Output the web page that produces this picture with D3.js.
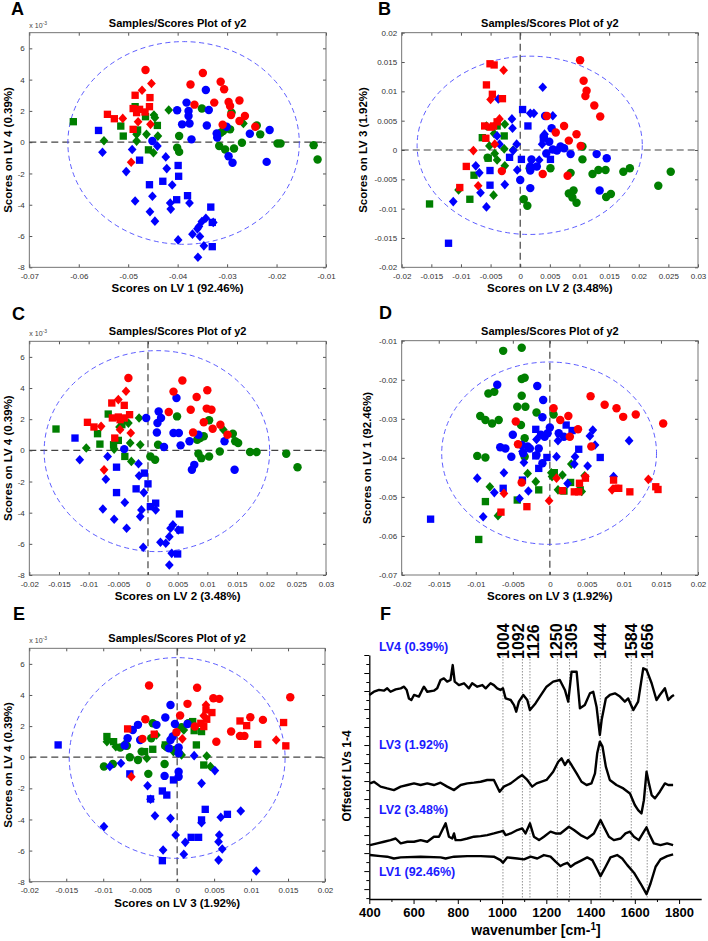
<!DOCTYPE html>
<html>
<head>
<meta charset="utf-8">
<script src="https://cdn.jsdelivr.net/npm/d3@7"></script>
<style>
  body { margin: 0; background: #fff; }
</style>
</head>
<body>
<script>
// ---------------------------------------------------------------
// data (scores are stored in units of 1e-3)
// group code: colour r/g/b + shape c(ircle) s(quare) d(iamond)
// ---------------------------------------------------------------
var ticksLV1 = [-70, -60, -50, -40, -30, -20, -10];
var ticksLV2 = [-20, -15, -10, -5, 0, 5, 10, 15, 20, 25, 30];
var ticksLV3 = [-20, -15, -10, -5, 0, 5, 10, 15, 20];
var ticksLV4 = [-8, -6, -4, -2, 0, 2, 4, 6];

// confidence ellipses: [cx, cy, rx, ry]
var ellipseA = [-38.8, -0.05, 23.4, 6.48];
var ellipseB = [1.6, 0.8, 19.0, 15.2];
var ellipseC = [1.5, -0.05, 19.0, 6.45];
var ellipseD = [-0.1, -38.8, 14.5, 23.35];
var ellipseE = [0.0, -0.05, 14.6, 6.45];

// A: LV1 vs LV4
var scoresA = [
  ["gs",-61.1,1.31],["gs",-51.5,1.03],["gs",-51.0,0.39],["gs",-48.6,2.27],["gs",-46.5,1.63],["gs",-44.1,1.07],["gs",-45.9,-0.49],["gs",-48.1,0.78],
  ["gd",-54.9,0.09],["gd",-44.8,1.74],["gd",-41.8,2.06],["gd",-48.3,0.50],["gd",-46.3,0.50],["gd",-44.0,0.39],["gd",-44.9,-0.68],["gd",-44.6,1.57],["gd",-48.3,0.07],["gd",-26.7,1.20],
  ["gc",-35.1,2.15],["gc",-39.7,0.39],["gc",-40.1,-0.36],["gc",-39.7,-0.62],["gc",-31.3,0.60],["gc",-31.6,-0.25],["gc",-30.4,-0.47],["gc",-28.6,-0.40],["gc",-27.0,-0.04],["gc",-24.0,1.07],["gc",-23.3,0.50],["gc",-19.8,-0.08],["gc",-19.2,-0.08],["gc",-12.5,-0.19],["gc",-11.7,-1.11],["gc",-29.1,1.89],["gc",-30.1,0.93],["gc",-29.4,0.82],["gc",-30.8,0.71],
  ["bc",-38.2,2.53],["bc",-40.1,2.04],["bc",-37.8,2.00],["bc",-37.8,1.67],["bc",-39.1,1.14],["bc",-37.6,1.20],["bc",-37.2,0.18],["bc",-34.3,3.34],["bc",-34.1,1.07],["bc",-33.7,2.06],["bc",-32.1,0.56],["bc",-32.0,0.30],["bc",-29.7,-0.90],["bc",-28.9,-1.32],["bc",-25.4,0.54],["bc",-21.4,0.78],["bc",-22.0,-1.26],["bc",-30.1,0.99],["bc",-45.1,0.07],
  ["bs",-56.0,0.75],["bs",-47.7,-1.15],["bs",-45.7,-2.72],["bs",-43.0,-2.50],["bs",-39.9,-1.49],["bs",-39.8,-2.18],["bs",-40.2,-3.68],["bs",-38.0,-3.42],["bs",-33.3,-4.15],["bs",-33.0,-6.68],["bs",-33.0,-5.13],
  ["bd",-55.2,-0.64],["bd",-50.4,-1.88],["bd",-49.2,-0.47],["bd",-48.6,-3.76],["bd",-45.6,-4.45],["bd",-45.1,-3.46],["bd",-44.6,-5.05],["bd",-44.1,-0.25],["bd",-42.4,-0.94],["bd",-42.2,-1.69],["bd",-41.1,-2.74],["bd",-41.5,-3.89],["bd",-41.4,-4.28],["bd",-39.9,-6.25],["bd",-37.6,-3.89],["bd",-37.0,-5.88],["bd",-36.0,-5.54],["bd",-35.5,-6.03],["bd",-35.1,-5.07],["bd",-34.3,-4.86],["bd",-34.7,-6.63],["bd",-35.9,-7.36],["bd",-32.8,-5.13],["bd",-35.7,-5.39],
  ["rc",-46.5,4.61],["rc",-34.9,4.42],["rc",-37.4,3.69],["rc",-31.3,3.86],["rc",-30.6,3.39],["rc",-36.6,2.40],["rc",-32.6,2.53],["rc",-29.7,2.57],["rc",-27.5,2.66],["rc",-29.4,2.32],["rc",-29.2,1.74],["rc",-26.4,1.67],["rc",-27.5,1.35],["rc",-30.9,1.12],["rc",-24.3,0.99],
  ["rs",-48.6,3.00],["rs",-45.6,2.85],["rs",-45.7,2.27],["rs",-54.2,1.78],["rs",-52.8,1.50],["rs",-49.0,2.15],["rs",-47.7,2.10],["rs",-46.6,1.93],["rs",-48.3,1.89],["rs",-49.0,0.82],
  ["rd",-47.2,3.32],["rd",-45.3,3.75],["rd",-51.1,1.52],["rd",-48.0,1.31],["rd",-45.5,1.14],["rd",-49.4,-1.28]
];

// B: LV2 vs LV3
var scoresB = [
  ["gs",-15.3,-9.2],["gs",-8.5,-8.4],["gs",-7.8,-4.3],["gs",-6.4,2.1],["gs",-3.9,4.1],["gs",-2.7,2.4],["gs",-5.4,-1.4],
  ["gd",-10.4,-6.8],["gd",-4.5,-7.7],["gd",-5.7,4.1],["gd",-5.2,0.7],["gd",-4.4,2.8],["gd",-3.9,-1.7],["gd",-2.6,4.4],["gd",-2.7,0.2],["gd",-2.6,-2.7],["gd",-1.2,0.0],["gd",-4.3,-0.6],
  ["gc",-5.5,-1.3],["gc",1.6,-3.1],["gc",0.6,-8.4],["gc",1.2,-9.5],["gc",5.1,-3.1],["gc",8.5,-3.9],["gc",10.5,0.6],["gc",10.5,-1.6],["gc",8.2,-7.4],["gc",8.8,-8.1],["gc",9.5,-9.0],["gc",9.0,-6.9],["gc",12.2,-4.1],["gc",13.2,-3.4],["gc",14.4,-3.4],["gc",14.5,-8.0],["gc",15.3,-7.5],["gc",17.4,-3.7],["gc",18.5,-3.1],["gc",23.3,-6.1],["gc",25.4,-3.7],
  ["bc",4.2,5.8],["bc",5.3,3.7],["bc",4.0,2.2],["bc",4.9,1.4],["bc",5.5,0.1],["bc",4.4,-0.6],["bc",6.2,-0.1],["bc",7.4,0.3],["bc",8.5,-0.7],["bc",12.9,-0.7],["bc",14.6,-1.4],["bc",13.4,-6.9],["bc",1.9,-1.6],["bc",1.7,-2.8],["bc",1.7,-6.5],["bc",2.8,-2.8],["bc",0.0,-5.1],["bc",1.7,-3.5],["bc",6.8,0.6],
  ["bs",0.4,6.9],["bs",1.3,4.1],["bs",-1.8,-1.25],["bs",0.2,-1.6],["bs",-5.1,-3.5],["bs",-5.1,-6.0],["bs",3.9,2.0],["bs",5.1,-1.6],["bs",-12.1,-15.9],
  ["bd",3.8,10.7],["bd",1.7,6.25],["bd",2.3,6.25],["bd",5.5,5.85],["bd",-3.7,8.7],["bd",-1.4,5.3],["bd",-1.3,3.7],["bd",-3.9,2.4],["bd",-3.5,1.0],["bd",-0.6,1.0],["bd",-1.2,-0.1],["bd",-0.5,-3.4],["bd",-7.5,-2.7],["bd",-6.9,-3.9],["bd",-6.7,-7.3],["bd",-5.7,-9.7],["bd",-11.3,-8.8],["bd",-2.6,-5.9],["bd",3.2,-1.7],["bd",3.7,1.0],["bd",4.1,2.7],
  ["rc",10.1,15.3],["rc",10.7,11.8],["rc",11.2,10.1],["rc",11.0,9.2],["rc",12.5,7.6],["rc",13.5,5.7],["rc",4.5,5.8],["rc",7.4,4.1],["rc",6.0,3.0],["rc",9.5,2.7],["rc",8.2,1.6],["rc",10.2,0.7],["rc",-3.1,-3.6],["rc",3.8,-4.1],["rc",8.0,-4.4],
  ["rs",-5.1,14.7],["rs",-4.4,14.5],["rs",-5.7,11.1],["rs",-4.7,9.5],["rs",-3.0,8.75],["rs",-6.0,4.1],["rs",-4.5,4.1],["rs",-3.9,4.8],["rs",-5.8,2.0],["rs",-9.1,-2.8],["rs",-10.2,-6.4],["rs",-5.0,3.9],
  ["rd",-2.8,13.6],["rd",-5.0,8.6],["rd",-3.5,5.3],["rd",-7.9,-0.1],["rd",-7.1,-6.1],["rd",-4.3,1.0]
];

// C: LV2 vs LV4
var scoresC = [
  ["gs",-15.5,1.37],["gs",-8.5,1.07],["gs",-8.1,0.40],["gs",-6.7,2.33],["gs",-5.8,0.36],["gs",-3.9,-0.39],["gs",-4.4,1.65],["gs",-5.0,0.64],
  ["gd",-10.4,0.15],["gd",-3.3,1.75],["gd",-1.5,2.08],["gd",-1.3,0.36],["gd",-2.8,-0.71],["gd",-4.8,1.50],["gd",-3.0,0.47],["gd",-5.7,0.08],["gd",12.7,1.33],
  ["gc",1.7,0.36],["gc",0.4,-0.39],["gc",1.2,-0.60],["gc",4.9,2.18],["gc",10.3,1.93],["gc",8.3,0.68],["gc",8.8,0.79],["gc",9.4,0.90],["gc",8.5,-0.22],["gc",9.0,-0.50],["gc",10.3,-0.39],["gc",12.1,-0.07],["gc",14.3,1.07],["gc",14.7,0.58],["gc",15.2,0.47],["gc",17.2,-0.11],["gc",18.3,-0.11],["gc",23.3,-0.22],["gc",25.2,-1.08],
  ["bc",-0.3,2.08],["bc",1.8,2.50],["bc",2.2,2.08],["bc",1.6,1.75],["bc",1.5,1.15],["bc",2.7,0.21],["bc",4.8,3.36],["bc",4.3,1.11],["bc",5.2,1.11],["bc",5.5,0.32],["bc",7.0,0.58],["bc",8.5,1.00],["bc",7.4,-1.25],["bc",7.8,-0.93],["bc",12.9,0.58],["bc",14.6,-1.25],["bc",-4.0,0.08],
  ["bs",-12.3,0.79],["bs",-5.3,-1.08],["bs",-5.3,-2.71],["bs",-2.0,-2.47],["bs",-0.6,-1.46],["bs",0.0,-2.15],["bs",0.4,-3.61],["bs",1.3,-3.39],["bs",5.3,-4.08],["bs",5.0,-6.65],["bs",5.4,-5.11],
  ["bd",-11.5,-0.60],["bd",-7.1,-1.85],["bd",-6.8,-0.39],["bd",-7.6,-3.76],["bd",-5.7,-4.42],["bd",-3.9,-3.35],["bd",-3.6,-5.00],["bd",-1.6,-0.86],["bd",-1.5,-1.63],["bd",-0.7,-2.71],["bd",-1.1,-3.82],["bd",-1.3,-4.25],["bd",-0.8,-6.22],["bd",1.3,-3.82],["bd",2.1,-5.90],["bd",3.0,-5.96],["bd",3.6,-5.54],["bd",3.8,-5.00],["bd",4.2,-4.78],["bd",4.0,-6.61],["bd",3.6,-7.36],["bd",5.1,-5.11],
  ["rc",-3.3,4.65],["rc",5.8,4.48],["rc",4.3,3.77],["rc",10.0,3.86],["rc",8.2,3.43],["rc",3.5,2.46],["rc",7.2,2.61],["rc",9.9,2.68],["rc",10.7,2.61],["rc",9.4,1.80],["rc",12.2,1.65],["rc",10.9,1.39],["rc",7.6,1.15],["rc",13.4,1.00],
  ["rs",-6.1,3.04],["rs",-4.0,2.89],["rs",-10.2,1.80],["rs",-9.1,1.50],["rs",-6.0,2.08],["rs",-5.0,2.14],["rs",-4.0,2.08],["rs",-3.1,2.29],["rs",-5.6,0.79],["rs",-4.7,1.97],
  ["rd",-5.0,3.26],["rd",-3.7,3.79],["rd",-7.9,1.54],["rd",-4.7,1.33],["rd",-2.9,1.11],["rd",-7.4,-1.25]
];

// D: LV3 vs LV1
var scoresD = [
  ["gc",-6.3,-12.6],["gc",-3.8,-11.8],["gc",-3.8,-19.8],["gc",-3.4,-19.5],["gc",-8.3,-23.5],["gc",-7.5,-23.1],["gc",-3.8,-24.1],["gc",-4.4,-26.9],["gc",-3.3,-26.9],["gc",-9.4,-29.3],["gc",-8.7,-30.3],["gc",-7.8,-31.2],["gc",-6.9,-30.3],["gc",-3.9,-31.6],["gc",-3.4,-35.0],["gc",-1.8,-28.4],["gc",-9.8,-39.5],["gc",-8.7,-39.9],["gc",-3.4,-39.7],["gc",0.5,-28.9],
  ["gs",-8.7,-51.2],["gs",-9.6,-60.9],["gs",-4.4,-50.8],["gs",-1.5,-48.2],["gs",0.6,-43.8],["gs",1.9,-48.5],["gs",2.8,-46.3],["gs",4.1,-48.2],
  ["gd",-8.1,-47.4],["gd",-7.0,-54.8],["gd",-3.0,-44.0],["gd",-1.9,-46.1],["gd",0.2,-43.8],["gd",0.3,-44.8],["gd",1.1,-48.2],["gd",1.7,-44.4],["gd",2.9,-41.6],["gd",4.7,-44.6],["gd",4.3,-48.6],
  ["bc",-7.1,-21.3],["bc",-1.7,-21.6],["bc",-0.9,-25.2],["bc",-1.0,-29.6],["bc",0.0,-32.2],["bc",-5.0,-34.1],["bc",-6.7,-37.3],["bc",-6.0,-37.6],["bc",-5.2,-39.7],["bc",-3.8,-36.7],["bc",-3.0,-37.1],["bc",-2.7,-37.6],["bc",-1.5,-37.6],["bc",-1.2,-34.1],["bc",-0.7,-34.6],["bc",-0.3,-33.7],["bc",-1.8,-39.3],["bc",-1.0,-41.4],["bc",1.2,-33.7],["bc",1.9,-34.6],["bc",-3.6,-38.8],
  ["bs",-1.9,-32.7],["bs",-1.9,-39.5],["bs",-1.5,-42.7],["bs",-0.4,-39.9],["bs",3.0,-33.0],["bs",3.9,-37.8],["bs",6.8,-39.9],["bs",-6.3,-47.8],["bs",-3.7,-45.7],["bs",-16.1,-55.7],["bs",2.2,-31.6],
  ["bd",-9.8,-45.2],["bd",-9.0,-55.1],["bd",-7.5,-48.9],["bd",-6.2,-43.8],["bd",-4.1,-50.4],["bd",-2.9,-48.5],["bd",-3.5,-41.2],["bd",-3.7,-38.4],["bd",-1.8,-35.3],["bd",1.1,-35.6],["bd",0.9,-39.7],["bd",3.4,-39.7],["bd",3.3,-41.6],["bd",5.1,-42.1],["bd",5.4,-34.4],["bd",5.8,-32.9],["bd",6.1,-36.7],["bd",8.6,-44.8],["bd",10.7,-35.6],["bd",2.4,-46.6],
  ["rc",0.5,-27.3],["rc",1.4,-30.3],["rc",2.5,-29.3],["rc",-4.6,-30.7],["rc",-4.3,-36.5],["rc",-3.8,-46.3],["rc",3.8,-32.7],["rc",2.7,-34.6],["rc",5.6,-37.1],["rc",5.5,-24.2],["rc",7.4,-26.4],["rc",9.0,-27.3],["rc",9.9,-29.5],["rc",11.6,-28.9],["rc",15.3,-31.2],
  ["rs",-6.6,-53.9],["rs",-3.1,-52.5],["rs",1.7,-48.4],["rs",3.3,-48.7],["rs",4.0,-46.5],["rs",3.9,-48.7],["rs",8.6,-45.7],["rs",9.3,-47.8],["rs",8.9,-47.8],["rs",10.8,-48.7],["rs",14.3,-47.4],["rs",14.6,-48.1],["rs",4.8,-45.2],
  ["rd",-6.2,-49.1],["rd",-0.1,-51.0],["rd",0.9,-45.2],["rd",4.8,-44.8],["rd",8.4,-48.2],["rd",13.3,-45.5]
];

// E: LV3 vs LV4
var scoresE = [
  ["gs",-9.5,1.33],["gs",-8.6,1.00],["gs",-4.4,0.36],["gs",-3.3,0.51],["gs",-1.6,0.79],["gs",2.1,2.29],["gs",2.3,1.71],["gs",2.6,0.79],["gs",3.3,1.65],["gs",3.6,-0.50],
  ["gd",-9.5,1.00],["gd",-8.3,0.68],["gd",-7.0,0.90],["gd",-4.1,-0.07],["gd",-2.8,1.43],["gd",-1.6,0.68],["gd",-0.5,0.36],["gd",0.6,0.15],["gd",0.9,1.75],["gd",4.0,0.08],["gd",4.5,-0.60],
  ["gc",-9.9,-0.60],["gc",-8.7,-0.43],["gc",-7.7,0.62],["gc",-6.8,0.73],["gc",-6.4,0.0],["gc",-5.3,-0.18],["gc",-3.9,-1.07],["gc",-1.7,-0.43],["gc",-3.3,2.18],["gc",-3.5,1.22],["gc",-1.6,0.73],["gc",-0.3,0.47],["gc",0.6,1.93],["gc",1.5,2.18],["gc",-4.8,0.36],
  ["bc",-0.9,3.36],["bc",-1.6,2.55],["bc",-2.8,2.08],["bc",-5.3,2.08],["bc",-6.0,1.75],["bc",-6.7,1.22],["bc",-5.0,1.11],["bc",-0.9,1.11],["bc",-0.3,2.14],["bc",1.4,2.14],["bc",-1.1,0.58],["bc",0.2,0.62],["bc",0.2,0.26],["bc",0.2,-0.93],["bc",0.2,-1.25],["bc",-1.7,-1.20],["bc",-7.1,0.75],["bc",-0.6,1.33],
  ["bs",-16.1,0.79],["bs",-6.4,-1.07],["bs",-3.6,-2.68],["bs",-2.0,-2.17],["bs",-1.4,-2.43],["bs",-0.5,-1.46],["bs",3.8,-3.35],["bs",3.3,-4.03],["bs",1.9,-5.15],["bs",2.9,-5.15],["bs",6.8,-3.67],["bs",-2.0,-6.65],
  ["bd",-9.1,-0.60],["bd",-7.6,-0.39],["bd",-4.0,-1.83],["bd",-3.6,-2.70],["bd",-3.0,-3.76],["bd",-0.9,-3.93],["bd",-1.9,-5.96],["bd",-0.2,-5.00],["bd",1.1,-5.47],["bd",0.9,-6.24],["bd",2.3,0.10],["bd",3.3,-1.68],["bd",5.1,-0.86],["bd",3.3,-4.21],["bd",5.6,-5.43],["bd",5.7,-5.00],["bd",5.6,-6.61],["bd",5.9,-3.86],["bd",6.1,-5.90],["bd",8.6,-3.46],["bd",10.7,-7.31],["bd",-9.9,-4.46],
  ["rc",-3.8,4.61],["rc",2.7,4.46],["rc",1.4,3.43],["rc",4.9,3.79],["rc",5.7,3.75],["rc",0.4,2.68],["rc",2.4,1.97],["rc",-4.3,2.44],["rc",-4.7,1.18],["rc",5.3,1.00],["rc",7.3,1.65],["rc",8.5,1.37],["rc",9.1,1.37],["rc",9.9,2.57],["rc",11.6,2.40],["rc",15.3,3.86],["rc",-0.1,1.60],
  ["rs",-6.7,1.82],["rs",-3.1,1.48],["rs",3.9,3.04],["rs",4.0,2.44],["rs",4.7,2.87],["rs",3.6,1.97],["rs",8.5,2.33],["rs",9.4,2.03],["rs",10.9,0.83],["rs",14.4,2.23],["rs",14.7,0.73],["rs",3.2,2.18],
  ["rd",3.9,3.36],["rd",0.7,1.18],["rd",-6.2,-1.25],["rd",13.4,1.11],["rd",3.6,2.66]
];

// F: loadings, offset stacked  [wavenumber, offset]
var lv4Spectrum = [[400,10.78],[421,10.96],[444,11.06],[466,11.02],[481,11.15],[496,10.96],[519,11.09],[542,11.15],[557,11.24],[569,11.06],[579,10.59],[590,10.50],[602,10.78],[624,10.69],[639,11.06],[647,11.24],[662,10.96],[692,11.02],[707,11.15],[722,11.61],[737,11.70],[752,11.52],[767,11.61],[777,12.44],[786,11.52],[805,11.33],[828,11.43],[850,11.15],[865,11.43],[888,11.24],[911,11.33],[926,11.15],[948,11.43],[963,11.33],[978,11.15],[993,11.06],[1004,11.15],[1016,10.59],[1039,10.50],[1054,10.22],[1064,9.85],[1076,10.41],[1096,10.78],[1114,10.50],[1126,9.94],[1151,10.31],[1171,10.69],[1201,11.24],[1231,11.52],[1261,11.61],[1284,11.06],[1299,10.41],[1314,12.07],[1337,12.07],[1352,10.04],[1374,10.22],[1397,10.87],[1412,10.96],[1427,10.13],[1442,8.56],[1450,9.39],[1469,10.59],[1487,10.78],[1510,10.87],[1533,10.69],[1555,10.41],[1570,10.59],[1593,9.94],[1615,10.41],[1638,12.26],[1653,12.17],[1676,11.43],[1698,10.50],[1713,10.78],[1736,11.15],[1751,10.50],[1766,10.69],[1777,10.78]];
var lv3Spectrum = [[403,5.87],[421,5.96],[451,5.69],[481,5.59],[511,5.50],[542,5.69],[572,5.78],[602,5.87],[632,5.78],[662,5.87],[692,5.78],[722,5.91],[752,5.69],[783,5.50],[813,5.78],[843,5.87],[873,5.91],[903,5.96],[933,6.06],[963,6.06],[989,5.41],[1008,5.69],[1039,5.87],[1069,6.15],[1091,6.33],[1114,6.06],[1136,5.69],[1156,5.87],[1201,6.06],[1231,6.52],[1254,7.07],[1269,7.26],[1284,6.89],[1299,7.17],[1314,6.89],[1337,6.43],[1359,5.96],[1382,5.78],[1404,5.87],[1420,6.43],[1430,7.54],[1442,8.19],[1454,7.91],[1469,6.80],[1487,6.06],[1517,5.78],[1548,5.59],[1578,5.31],[1600,4.67],[1615,4.39],[1630,4.20],[1641,4.94],[1653,6.52],[1664,5.87],[1676,5.22],[1691,5.04],[1713,5.41],[1736,5.87],[1751,5.78],[1773,5.78]];
var lv2Spectrum = [[403,2.44],[436,2.54],[466,2.63],[496,2.72],[519,2.81],[542,2.54],[572,2.63],[602,2.63],[632,2.72],[662,2.63],[692,2.91],[715,2.91],[730,3.28],[745,3.65],[760,2.91],[775,2.81],[783,3.09],[790,2.72],[813,2.72],[843,2.81],[873,2.91],[903,2.94],[933,3.00],[963,3.09],[993,3.19],[1004,3.24],[1016,3.00],[1039,3.09],[1069,3.28],[1091,3.37],[1106,3.09],[1126,3.65],[1144,2.91],[1167,2.72],[1189,2.91],[1219,3.19],[1242,3.09],[1264,3.09],[1302,3.46],[1325,3.28],[1355,3.00],[1385,2.81],[1415,3.09],[1445,3.83],[1460,3.46],[1483,2.91],[1505,2.72],[1536,2.81],[1558,3.09],[1578,3.19],[1596,2.91],[1618,2.72],[1641,3.19],[1653,3.43],[1664,3.09],[1686,2.54],[1716,2.44],[1746,2.54],[1773,2.44]];
var lv1Spectrum = [[403,1.89],[451,1.83],[481,1.80],[511,1.70],[542,1.76],[632,1.80],[722,1.76],[745,1.70],[767,1.76],[783,1.80],[843,1.83],[903,1.83],[963,1.80],[993,1.61],[1004,1.46],[1023,1.76],[1069,1.70],[1099,1.65],[1129,1.80],[1159,1.70],[1189,1.89],[1219,1.80],[1242,1.52],[1264,1.28],[1280,1.39],[1295,1.46],[1310,1.24],[1332,1.43],[1355,1.57],[1385,1.76],[1408,1.61],[1430,1.09],[1445,0.72],[1468,1.24],[1490,1.76],[1520,1.89],[1543,1.70],[1566,1.33],[1596,0.91],[1626,0.31],[1653,-0.28],[1671,0.31],[1694,1.24],[1716,1.65],[1746,1.83],[1773,1.93]];

var peakBands = [1004, 1092, 1126, 1250, 1305, 1444, 1584, 1656];
var lvNames = ["LV4 (0.39%)", "LV3 (1.92%)", "LV2 (3.48%)", "LV1 (92.46%)"];
var spectra = [lv4Spectrum, lv3Spectrum, lv2Spectrum, lv1Spectrum];

// ---------------------------------------------------------------
// stage
// ---------------------------------------------------------------
var FONT = "'Liberation Sans', Arial, Helvetica, sans-serif";
var svg = d3.select("body").append("svg")
    .attr("width", 708)
    .attr("height", 941)
    .style("font-family", FONT);

var colorOf = { r: "#ff0000", g: "#007f00", b: "#0000ff" };
var diamondType = {
    draw: function (ctx, size) {
        var a = Math.sqrt(size / 2.2), b = a * 1.1;
        ctx.moveTo(0, -b); ctx.lineTo(a, 0); ctx.lineTo(0, b); ctx.lineTo(-a, 0); ctx.closePath();
    }
};
var shapeOf = {
    c: d3.symbol(d3.symbolCircle, 56)(),
    s: d3.symbol(d3.symbolSquare, 54)(),
    d: d3.symbol(diamondType, 42)()
};

// panel layout
var panels = [
    { letter: "A", lx: 11, ly: 15, data: scoresA, ell: ellipseA, xDom: [-70, -10], yDom: [-8, 7],
      xTicks: ticksLV1, yTicks: ticksLV4, milliY: true, zeroX: false, zeroY: true,
      xLabel: "Scores on LV 1 (92.46%)", yLabel: "Scores on LV 4 (0.39%)",
      box: [29.3, 32.7, 326, 267.3], yGap: 17 },
    { letter: "B", lx: 378, ly: 15, data: scoresB, ell: ellipseB, xDom: [-20, 30], yDom: [-20, 20],
      xTicks: ticksLV2, yTicks: ticksLV3, milliY: false, zeroX: true, zeroY: true,
      xLabel: "Scores on LV 2 (3.48%)", yLabel: "Scores on LV 3 (1.92%)",
      box: [401.7, 32.7, 698, 267.3], yGap: 35 },
    { letter: "C", lx: 12, ly: 320, data: scoresC, ell: ellipseC, xDom: [-20, 30], yDom: [-8, 7],
      xTicks: ticksLV2, yTicks: ticksLV4, milliY: true, zeroX: true, zeroY: true,
      xLabel: "Scores on LV 2 (3.48%)", yLabel: "Scores on LV 4 (0.39%)",
      box: [29.3, 341.3, 326, 575], yGap: 17 },
    { letter: "D", lx: 379, ly: 319, data: scoresD, ell: ellipseD, xDom: [-20, 20], yDom: [-70, -10],
      xTicks: ticksLV3, yTicks: ticksLV1, milliY: false, zeroX: true, zeroY: false,
      xLabel: "Scores on LV 3 (1.92%)", yLabel: "Scores on LV 1 (92.46%)",
      box: [401.7, 340.7, 698, 575], yGap: 31 },
    { letter: "E", lx: 13, ly: 620, data: scoresE, ell: ellipseE, xDom: [-20, 20], yDom: [-8, 7],
      xTicks: ticksLV3, yTicks: ticksLV4, milliY: true, zeroX: true, zeroY: true,
      xLabel: "Scores on LV 3 (1.92%)", yLabel: "Scores on LV 4 (0.39%)",
      box: [29.3, 648.3, 325, 881.7], yGap: 17 }
];

function rawLabel(d) { return String(+(d / 1000).toFixed(3)); }

function styleAxis(a, size, fill, weight) {
    a.attr("font-family", null).attr("font-size", size);
    a.selectAll("text").attr("fill", fill).attr("font-weight", weight || null);
}

function panelLetter(t, x, y) {
    svg.append("text").attr("x", x).attr("y", y)
        .attr("font-size", 18).attr("font-weight", "bold").text(t);
}

// ---------------------------------------------------------------
// score plots
// ---------------------------------------------------------------
function drawScores(p) {
    var x0 = p.box[0], y0 = p.box[1], x1 = p.box[2], y1 = p.box[3];
    var x = d3.scaleLinear().domain(p.xDom).range([x0, x1]);
    var y = d3.scaleLinear().domain(p.yDom).range([y1, y0]);
    var g = svg.append("g");
    var fmtY = p.milliY ? function (d) { return String(d); } : rawLabel;

    var axes = [
        [d3.axisBottom(x).tickValues(p.xTicks).tickFormat(rawLabel).tickPadding(6), "translate(0," + y1 + ")"],
        [d3.axisTop(x).tickValues(p.xTicks).tickFormat(""), "translate(0," + y0 + ")"],
        [d3.axisLeft(y).tickValues(p.yTicks).tickFormat(fmtY).tickPadding(4.5), "translate(" + x0 + ",0)"],
        [d3.axisRight(y).tickValues(p.yTicks).tickFormat(""), "translate(" + x1 + ",0)"]
    ];
    axes.forEach(function (ax) {
        var a = g.append("g").attr("transform", ax[1])
            .call(ax[0].tickSizeInner(-3).tickSizeOuter(0));
        a.select(".domain").remove();
        a.selectAll("line").attr("stroke", "#555");
        styleAxis(a, 8, "#333");
    });

    g.append("rect")
        .attr("x", x0).attr("y", y0)
        .attr("width", x1 - x0).attr("height", y1 - y0)
        .attr("fill", "none").attr("stroke", "#666").attr("stroke-width", 0.9);

    // zero lines
    if (p.zeroY) {
        g.append("line").attr("x1", x0).attr("x2", x1).attr("y1", y(0)).attr("y2", y(0))
            .attr("stroke", "#444").attr("stroke-width", 1.2).attr("stroke-dasharray", "7,4");
    }
    if (p.zeroX) {
        g.append("line").attr("x1", x(0)).attr("x2", x(0)).attr("y1", y0).attr("y2", y1)
            .attr("stroke", "#444").attr("stroke-width", 1.2).attr("stroke-dasharray", "7,4");
    }

    // confidence ellipse
    var e = p.ell;
    g.append("ellipse")
        .attr("cx", x(e[0])).attr("cy", y(e[1]))
        .attr("rx", x(e[0] + e[2]) - x(e[0]))
        .attr("ry", y(e[1]) - y(e[1] + e[3]))
        .attr("fill", "none").attr("stroke", "#4b4bff")
        .attr("stroke-width", 0.9).attr("stroke-dasharray", "5,3.5");

    // samples
    g.selectAll("path.pt")
        .data(p.data)
        .enter()
        .append("path")
        .attr("class", "pt")
        .attr("transform", function (d) { return "translate(" + x(d[1]) + "," + y(d[2]) + ")"; })
        .attr("d", function (d) { return shapeOf[d[0][1]]; })
        .attr("fill", function (d) { return colorOf[d[0][0]]; });

    // texts
    g.append("text").attr("x", (x0 + x1) / 2).attr("y", y0 - 6)
        .attr("text-anchor", "middle").attr("font-size", 11).attr("font-weight", "bold")
        .text("Samples/Scores Plot of y2");
    g.append("text").attr("x", (x0 + x1) / 2).attr("y", y1 + 25)
        .attr("text-anchor", "middle").attr("font-size", 11.5).attr("font-weight", "bold")
        .text(p.xLabel);
    g.append("text")
        .attr("transform", "translate(" + (x0 - p.yGap) + "," + ((y0 + y1) / 2) + ") rotate(-90)")
        .attr("text-anchor", "middle").attr("font-size", 11.5).attr("font-weight", "bold")
        .text(p.yLabel);
    if (p.milliY) {
        var m = g.append("text").attr("x", x0).attr("y", y0 - 5)
            .attr("font-size", 7).attr("fill", "#444").text("x 10");
        m.append("tspan").attr("dy", -3).attr("font-size", 5).text("-3");
    }

    panelLetter(p.letter, p.lx, p.ly);
}

panels.forEach(drawScores);

// ---------------------------------------------------------------
// F: offset loadings
// ---------------------------------------------------------------
var fx = d3.scaleLinear().domain([400, 1900]).range([369.3, 701.2]);
var fy = d3.scaleLinear().domain([-0.55, 13]).range([899, 655]);
var gf = svg.append("g");

// x axis
var xMajor = gf.append("g").attr("transform", "translate(0,899)")
    .call(d3.axisBottom(fx).tickValues(d3.range(400, 1801, 200)).tickFormat(d3.format("d"))
        .tickSizeInner(5).tickSizeOuter(0).tickPadding(3.8));
xMajor.select(".domain").attr("stroke", "#000").attr("stroke-width", 1.3);
styleAxis(xMajor, 13, "#000", "bold");
var xMinor = gf.append("g").attr("transform", "translate(0,899)")
    .call(d3.axisBottom(fx).tickValues(d3.range(500, 1800, 200)).tickSize(3).tickFormat(""));
xMinor.select(".domain").remove();

// y axis (no labels)
var yMajor = gf.append("g").attr("transform", "translate(369.3,0)")
    .call(d3.axisLeft(fy).tickValues(d3.range(0, 14)).tickSizeInner(5).tickSizeOuter(0).tickFormat(""));
yMajor.select(".domain").attr("stroke", "#000").attr("stroke-width", 1.3);
var yMinor = gf.append("g").attr("transform", "translate(369.3,0)")
    .call(d3.axisLeft(fy).tickValues(d3.range(-0.5, 13, 1)).tickSize(3).tickFormat(""));
yMinor.select(".domain").remove();
gf.selectAll("g.tick line").attr("stroke", "#000");

// band markers
gf.selectAll("line.band")
    .data(peakBands)
    .enter()
    .append("line")
    .attr("class", "band")
    .attr("x1", function (d) { return fx(d); })
    .attr("x2", function (d) { return fx(d); })
    .attr("y1", 656).attr("y2", 898)
    .attr("stroke", "#777").attr("stroke-width", 0.8).attr("stroke-dasharray", "1.5,1.5");

// band labels, pushed apart where they would overlap
var labelX = peakBands.map(function (b) { return fx(b); });
for (var it = 0; it < 20; it++) {
    for (var i = 1; i < labelX.length; i++) {
        var gap = labelX[i] - labelX[i - 1];
        if (gap < 15) {
            var push = (15 - gap) / 2;
            labelX[i - 1] -= push;
            labelX[i] += push;
        }
    }
}
gf.selectAll("text.band")
    .data(peakBands)
    .enter()
    .append("text")
    .attr("class", "band")
    .attr("transform", function (d, i) { return "translate(" + labelX[i] + ",659) rotate(-90)"; })
    .attr("dy", "0.36em")
    .attr("font-size", 16).attr("font-weight", "bold")
    .text(function (d) { return d; });

// spectra
var line = d3.line()
    .x(function (d) { return fx(d[0]); })
    .y(function (d) { return fy(d[1]); });
gf.selectAll("path.spec")
    .data(spectra)
    .enter()
    .append("path")
    .attr("class", "spec")
    .attr("d", line)
    .attr("fill", "none").attr("stroke", "#000")
    .attr("stroke-width", 2.4).attr("stroke-linejoin", "round");

// LV names (offset level where each name sits)
var nameLevels = [13.22, 7.78, 4.17, 0.72];
gf.selectAll("text.lv")
    .data(lvNames)
    .enter()
    .append("text")
    .attr("class", "lv")
    .attr("x", 379)
    .attr("y", function (d, i) { return fy(nameLevels[i]); })
    .attr("font-size", 12.5).attr("font-weight", "bold").attr("fill", "#1a1aff")
    .text(function (d) { return d; });

gf.append("text")
    .attr("transform", "translate(351,776) rotate(-90)")
    .attr("text-anchor", "middle").attr("font-size", 12).attr("font-weight", "bold")
    .text("Offsetof LVs 1-4");

var xl = gf.append("text")
    .attr("x", 536).attr("y", 935)
    .attr("text-anchor", "middle").attr("font-size", 14).attr("font-weight", "bold")
    .text("wavenumber [cm-");
xl.append("tspan").attr("dy", -5).attr("font-size", 10).text("1");
xl.append("tspan").attr("dy", 5).text("]");

panelLetter("F", 380, 620);
</script>
</body>
</html>
